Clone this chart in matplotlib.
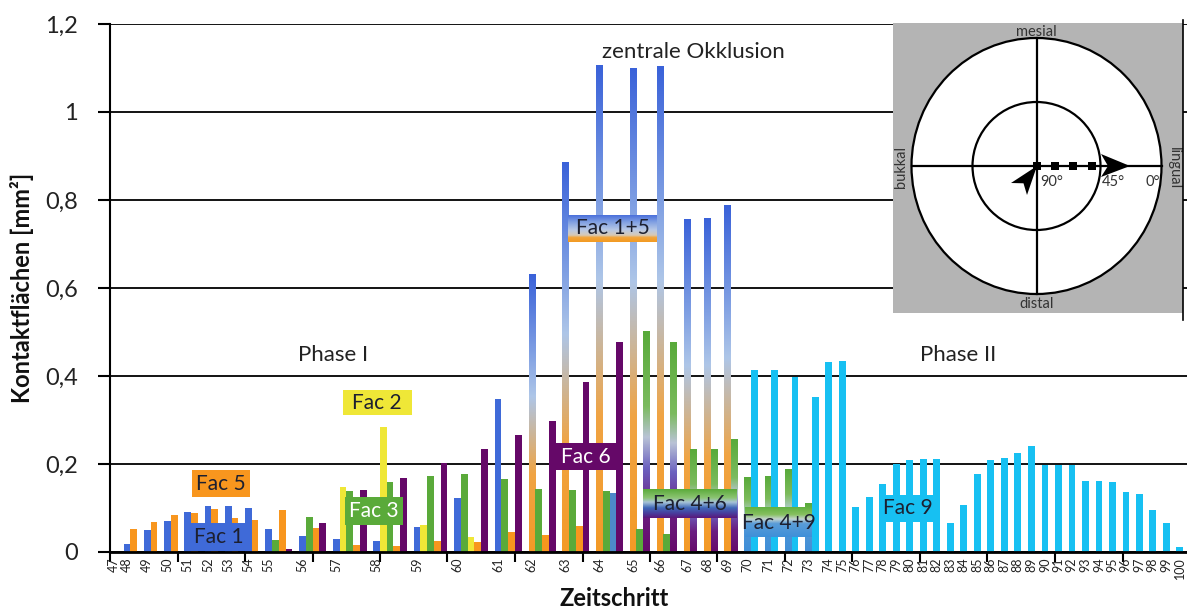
import numpy as np
import matplotlib
matplotlib.use("Agg")
import matplotlib.pyplot as plt
from matplotlib.colors import LinearSegmentedColormap
from matplotlib.patches import Rectangle, Ellipse, Polygon
from matplotlib.lines import Line2D

plt.rcParams['font.family'] = ['Lato', 'DejaVu Sans']

# ---- data: contact areas [mm²] per facet and time step ----
steps = list(range(47, 101))

fac1_steps = list(range(48, 62))
fac1 = [0.018, 0.049, 0.070, 0.092, 0.105, 0.104, 0.101, 0.052, 0.037, 0.029,
        0.024, 0.057, 0.122, 0.347]

fac2_steps = [57, 58, 59, 60]
fac2 = [0.147, 0.285, 0.061, 0.033]

fac3_steps = list(range(55, 67))
fac3 = [0.028, 0.080, 0.139, 0.159, 0.173, 0.177, 0.167, 0.143, 0.141, 0.139,
        0.052, 0.042]

fac5_steps = list(range(48, 64))
fac5 = [0.052, 0.069, 0.083, 0.089, 0.098, 0.077, 0.072, 0.095, 0.054, 0.016,
        0.014, 0.024, 0.023, 0.046, 0.039, 0.058]

fac4_steps = [64]
fac4 = [0.135]

fac6_steps = list(range(55, 65))
fac6 = [0.007, 0.065, 0.142, 0.169, 0.203, 0.233, 0.267, 0.298, 0.387, 0.478]

fac15_steps = list(range(62, 70))
fac15 = [0.631, 0.886, 1.105, 1.100, 1.104, 0.755, 0.757, 0.787]

fac46_steps = list(range(65, 70))
fac46 = [0.502, 0.476, 0.232, 0.232, 0.256]

fac49_steps = [70, 71, 72, 73]
fac49 = [0.170, 0.172, 0.188, 0.110]

fac9_steps = list(range(70, 101))
fac9 = [0.414, 0.414, 0.397, 0.352, 0.431, 0.433,
        0.103, 0.126, 0.154, 0.199, 0.209, 0.211, 0.211,
        0.067, 0.106, 0.177, 0.208, 0.213, 0.224, 0.240,
        0.198, 0.197, 0.197, 0.161, 0.162, 0.160, 0.136, 0.131, 0.095, 0.066, 0.012]

y_ticks = [0, 0.2, 0.4, 0.6, 0.8, 1.0, 1.2]
y_ticklabels = ["0", "0,2", "0,4", "0,6", "0,8", "1", "1,2"]

# ---- styles ----
solid_colors = {
    'fac1': '#3f6ad8', 'fac2': '#efe737', 'fac3': '#5aaa3a', 'fac5': '#f8961e',
    'fac4': '#4d89c9', 'fac6': '#650868', 'fac9': '#17c0f2',
}
cmap15 = LinearSegmentedColormap.from_list('f15', [
    (0.0, '#f49a26'), (0.28, '#f0a444'), (0.42, '#cdb596'), (0.56, '#aec6e8'),
    (0.72, '#7f9fe3'), (1.0, '#3a62d9')])
cmap46 = LinearSegmentedColormap.from_list('f46', [
    (0.0, '#660a6a'), (0.2, '#6a1f82'), (0.38, '#6c62c0'), (0.52, '#b9c3d6'),
    (0.66, '#7bbb5e'), (1.0, '#58aa3a')])
cmap49 = LinearSegmentedColormap.from_list('f49', [
    (0.0, '#3f8fd8'), (0.3, '#4d94d6'), (0.5, '#b6cfd8'), (0.7, '#7dbb5b'),
    (1.0, '#58aa3a')])
grad_cmaps = {'fac15': cmap15, 'fac46': cmap46, 'fac49': cmap49}

series = {
    'fac1': (fac1_steps, fac1), 'fac2': (fac2_steps, fac2), 'fac3': (fac3_steps, fac3),
    'fac5': (fac5_steps, fac5), 'fac4': (fac4_steps, fac4), 'fac6': (fac6_steps, fac6),
    'fac15': (fac15_steps, fac15), 'fac46': (fac46_steps, fac46),
    'fac49': (fac49_steps, fac49), 'fac9': (fac9_steps, fac9),
}
lookup = {k: dict(zip(s, v)) for k, (s, v) in series.items()}

bar_order = ['fac1', 'fac15', 'fac2', 'fac3', 'fac5', 'fac4', 'fac6', 'fac46', 'fac49', 'fac9']
bar_order_60 = ['fac1', 'fac3', 'fac2', 'fac5', 'fac6']

# each bar gets its own slot, with one empty slot after every time step
slot = 0
label_pos = []
bars = []
for s in steps:
    names = bar_order_60 if s == 60 else bar_order
    present = [n for n in names if s in lookup[n]]
    label_pos.append(slot + 0.5)
    if not present:
        slot += 1
    for n in present:
        bars.append((n, slot + 0.5, lookup[n][s]))
        slot += 1
    slot += 1
n_slots = slot

W, H = 1187, 609
fig = plt.figure(figsize=(W / 100, H / 100), dpi=100)
ax = fig.add_axes([110 / W, 1 - 552 / H, 1080 / W, 528 / H])
ax.set_xlim(0, n_slots)
ax.set_ylim(0, 1.2)


def grad_rect(axis, x0, x1, y0, y1, cmap, z):
    g = np.linspace(0, 1, 256).reshape(-1, 1)
    axis.imshow(g, cmap=cmap, origin='lower', extent=[x0, x1, y0, y1],
                aspect='auto', interpolation='bilinear', zorder=z)


for name, x, v in bars:
    if name in grad_cmaps:
        grad_rect(ax, x - 0.5, x + 0.5, 0, v, grad_cmaps[name], 2)
    else:
        ax.bar(x, v, width=1.0, color=solid_colors[name], zorder=2, linewidth=0)

ax.set_xlim(0, n_slots)
ax.set_ylim(0, 1.2)

# axes, grid, ticks
ax.set_yticks(y_ticks)
ax.set_yticklabels(y_ticklabels, fontsize=17, color='#222222')
ax.yaxis.grid(True, color='black', linewidth=1.3, zorder=0.5)
ax.set_axisbelow(True)
ax.tick_params(axis='y', direction='out', length=9, width=1.5, pad=14)
ax.set_xticks(np.arange(0, n_slots + 1, 10))
ax.set_xticklabels([])
ax.tick_params(axis='x', which='major', direction='out', length=7, width=1.5)
ax.set_xticks(label_pos, minor=True)
ax.set_xticklabels([str(s) for s in steps], minor=True, rotation=90,
                   fontsize=9, color='#222222')
ax.tick_params(axis='x', which='minor', length=0, pad=4)
for side in ['top', 'right']:
    ax.spines[side].set_visible(False)
ax.spines['left'].set_linewidth(1.5)
ax.spines['bottom'].set_linewidth(2.0)

fig.text(22 / W, 1 - 288 / H, "Kontaktflächen [mm²]", rotation=90, ha='center',
         va='center', fontsize=17, fontweight='bold', color='#111111')
fig.text(614 / W, 1 - 598 / H, "Zeitschritt", ha='center', va='center',
         fontsize=17, fontweight='bold', color='#111111')

# annotations
ax.text(33.0, 0.448, "Phase I", ha='center', va='center', fontsize=16, color='#222222', zorder=5)
ax.text(125.6, 0.448, "Phase II", ha='center', va='center', fontsize=16, color='#222222', zorder=5)
ax.text(86.5, 1.136, "zentrale Okklusion", ha='center', va='center', fontsize=16,
        color='#222222', zorder=5)


def label_box(x0, x1, y0, y1, text, face=None, cmap=None, tcolor='#1d2030'):
    if cmap is not None:
        grad_rect(ax, x0, x1, y0, y1, cmap, 4)
    else:
        ax.add_patch(Rectangle((x0, y0), x1 - x0, y1 - y0, facecolor=face,
                               edgecolor='none', zorder=4))
    ax.text((x0 + x1) / 2, (y0 + y1) / 2, text, ha='center', va='center',
            fontsize=15, color=tcolor, zorder=5)


box15 = LinearSegmentedColormap.from_list('b15', [
    (0.0, '#f39b22'), (0.17, '#f2a43a'), (0.25, '#d8c9b4'), (0.45, '#b8c9e6'),
    (0.75, '#7f9fe2'), (1.0, '#4a6fdb')])
box46 = LinearSegmentedColormap.from_list('b46', [
    (0.0, '#5c167a'), (0.15, '#4a3a9a'), (0.35, '#3f68b8'), (0.55, '#a8c4d8'),
    (0.7, '#8cc472'), (1.0, '#5aaa3a')])
box49 = LinearSegmentedColormap.from_list('b49', [
    (0.0, '#3e8fd8'), (0.45, '#5a9cd8'), (0.6, '#c4d4d0'), (0.75, '#86c060'),
    (1.0, '#62b040')])

label_box(12.1, 20.7, 0.125, 0.186, "Fac 5", face='#f8961e')
label_box(11.1, 21.0, 0.002, 0.066, "Fac 1", face='#3f6ad8')
label_box(34.5, 44.7, 0.311, 0.368, "Fac 2", face='#efe737')
label_box(34.8, 43.4, 0.061, 0.125, "Fac 3", face='#5aaa3a', tcolor='white')
label_box(65.2, 75.9, 0.186, 0.248, "Fac 6", face='#650868', tcolor='white')
label_box(67.9, 81.0, 0.705, 0.766, "Fac 1+5", cmap=box15)
label_box(79.0, 92.9, 0.077, 0.141, "Fac 4+6", cmap=box46)
label_box(94.1, 104.0, 0.034, 0.100, "Fac 4+9", cmap=box49)
label_box(114.4, 121.9, 0.068, 0.130, "Fac 9", face='#17c0f2')

ax.set_xlim(0, n_slots)
ax.set_ylim(0, 1.2)

# ---- direction diagram (drawn in pixel units) ----
axi = fig.add_axes([893 / W, 1 - 313 / H, 290 / W, 290 / H])
axi.set_xlim(893, 1183)
axi.set_ylim(313, 23)
axi.axis('off')
axi.add_patch(Rectangle((893, 23), 290, 290, facecolor='#b4b4b4', edgecolor='none'))
cx, cy = 1036.5, 166.0
axi.add_patch(Ellipse((cx, cy), 250, 256, facecolor='white', edgecolor='black', lw=1.6))
axi.add_patch(Ellipse((cx, cy), 128, 128, facecolor='none', edgecolor='black', lw=1.6))
axi.plot([cx - 125, cx + 125], [cy, cy], color='black', lw=1.6)
axi.plot([cx, cx], [cy - 128, cy + 128], color='black', lw=1.6)
for x0 in [1033.0, 1051.0, 1069.3, 1087.7]:
    axi.add_patch(Rectangle((x0, cy - 4.2), 8, 8.4, facecolor='black', edgecolor='none'))
axi.add_patch(Polygon([(1130, cy), (1101, cy - 12), (1108, cy), (1101, cy + 11)],
                      closed=True, facecolor='black', edgecolor='none'))
axi.add_patch(Polygon([(1037, 166), (1011, 183), (1023.5, 183.3), (1027, 195)],
                      closed=True, facecolor='black', edgecolor='none'))
tkw = dict(fontsize=10.5, color='#333333')
axi.text(1040, 182, "90°", ha='left', va='center', **tkw)
axi.text(1102, 182, "45°", ha='left', va='center', **tkw)
axi.text(1146, 182, "0°", ha='left', va='center', **tkw)
axi.text(cx, 32, "mesial", ha='center', va='center', **tkw)
axi.text(cx, 304, "distal", ha='center', va='center', **tkw)
axi.text(901, 167, "bukkal", ha='center', va='center', rotation=90, **tkw)
axi.text(1174, 168, "lingual", ha='center', va='center', rotation=270, **tkw)

fig.add_artist(Line2D([1183 / W, 1183 / W], [1 - 320 / H, 1 - 20 / H],
                      color='black', lw=1.2))

fig.savefig("out.png", dpi=100)
